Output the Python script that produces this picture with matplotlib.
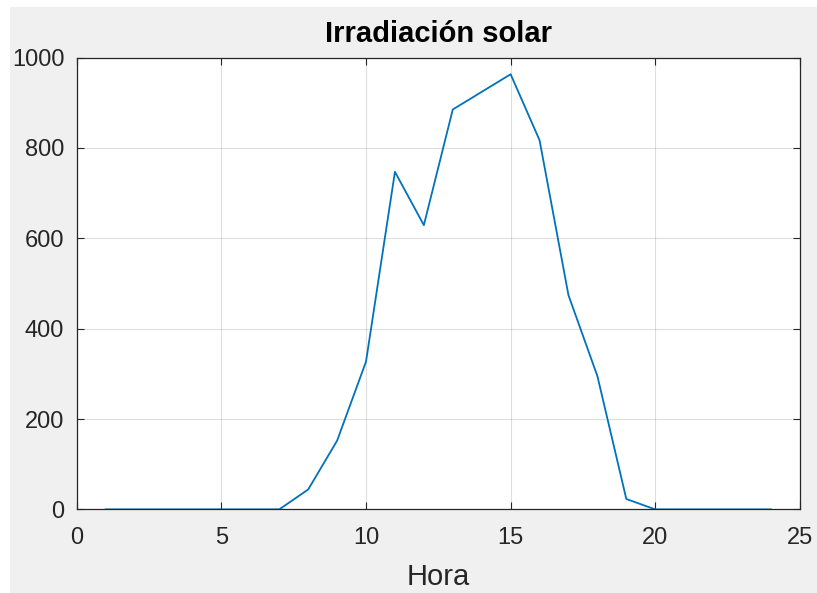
import matplotlib
matplotlib.use("Agg")
import matplotlib.pyplot as plt
from matplotlib.patches import Rectangle

hours = list(range(1, 25))
irradiance = [0, 0, 0, 0, 0, 0, 0, 44, 152, 327, 747, 629, 885, 924, 963, 817,
              474, 295, 23, 0, 0, 0, 0, 0]
x_ticks = [0, 5, 10, 15, 20, 25]
y_ticks = [0, 200, 400, 600, 800, 1000]

plt.rcParams['font.family'] = ['Liberation Sans', 'DejaVu Sans']

fig = plt.figure(figsize=(8.17, 5.93), dpi=100)
fig.patch.set_facecolor('white')
fig.patches.append(Rectangle((10/817, 0), 1 - 10/817, 1 - 7/593, transform=fig.transFigure,
                             facecolor='#f0f0f0', edgecolor='none', zorder=-10))
ax = fig.add_axes([0.094, 0.141, 0.885, 0.762])
ax.set_facecolor('white')
ax.plot(hours, irradiance, color='#0072bd', linewidth=1.3)
ax.set_xlim(0, 25)
ax.set_ylim(0, 1000)
ax.set_xticks(x_ticks)
ax.set_yticks(y_ticks)
ax.grid(True, color='#262626', alpha=0.15, linewidth=0.8)
ax.tick_params(direction='in', length=5, labelsize=17, colors='#262626', top=True, right=True,
               labeltop=False, labelright=False)
ax.tick_params(axis='x', pad=13)
ax.tick_params(axis='y', pad=9)
for s in ax.spines.values():
    s.set_color('#262626')
    s.set_linewidth(0.9)
ax.set_xlabel('Hora', fontsize=21, color='#262626', labelpad=10)
ax.set_title('Irradiación solar', fontsize=21, fontweight='bold', color='#000000', pad=11)

fig.savefig('out.png', dpi=100, facecolor=fig.get_facecolor())
